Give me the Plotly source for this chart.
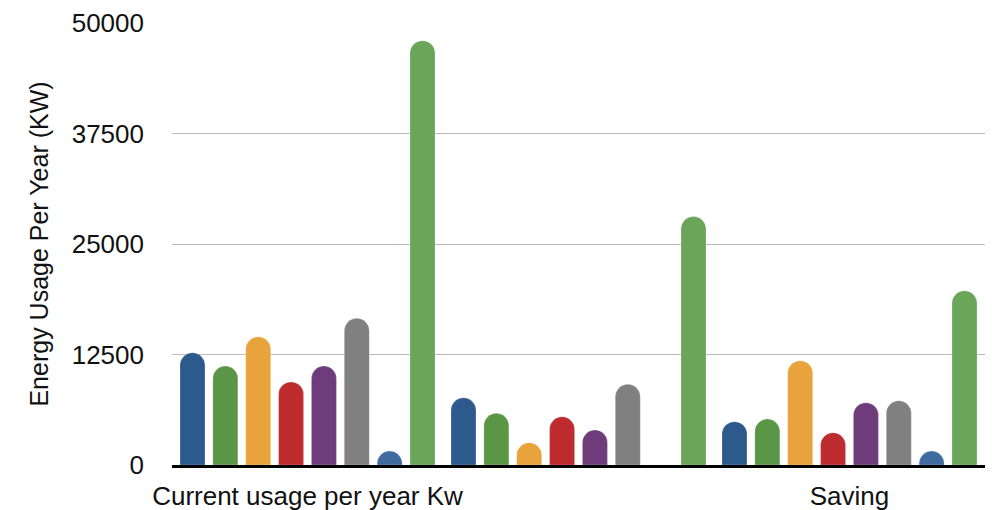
import plotly.graph_objects as go

categories = ["Current usage per year Kw", " ", "Saving"]
series_names = ["S1", "S2", "S3", "S4", "S5", "S6", "S7", "S8"]
series_values = [
    [12700, 7600, 4900],
    [11200, 5850, 5200],
    [14500, 2520, 11800],
    [9400, 5460, 3650],
    [11200, 3960, 7050],
    [16600, 9130, 7270],
    [1580, None, 1580],
    [48000, 28100, 19700],
]
colors = ["#2C5A8C", "#5A9646", "#E8A33C", "#BE2C30", "#6E3C7B", "#7F807F", "#3F6BA0", "#6BA55A"]
y_ticks = [0, 12500, 25000, 37500, 50000]

fig = go.Figure()
for name, vals, col in zip(series_names, series_values, colors):
    fig.add_trace(go.Bar(
        x=categories, y=vals, name=name,
        marker=dict(color=col, cornerradius="50%",
                    line=dict(color="rgba(255,255,255,0.4)", width=0.5)),
    ))

font_family = "Liberation Sans, Arial, sans-serif"
fig.update_layout(
    width=992, height=510,
    margin=dict(l=172, r=7, t=23, b=45),
    paper_bgcolor="white", plot_bgcolor="white",
    barmode="group", bargap=0.03, bargroupgap=0.24,
    showlegend=False,
    font=dict(family=font_family, color="#111111", size=22),
)
fig.update_yaxes(
    range=[0, 50000], tickvals=y_ticks, ticktext=[str(v) for v in y_ticks],
    showgrid=True, gridcolor="#BBBBBB", gridwidth=1,
    zeroline=False, showline=False, automargin=False,
    tickfont=dict(size=26), ticklabelstandoff=27,
    title=dict(text="Energy Usage Per Year (KW)", font=dict(size=25), standoff=15),
)
fig.update_xaxes(
    showline=True, linecolor="black", linewidth=3, automargin=False,
    tickfont=dict(size=26), ticks="", ticklabelstandoff=6,
)
fig.write_html("out.html")
